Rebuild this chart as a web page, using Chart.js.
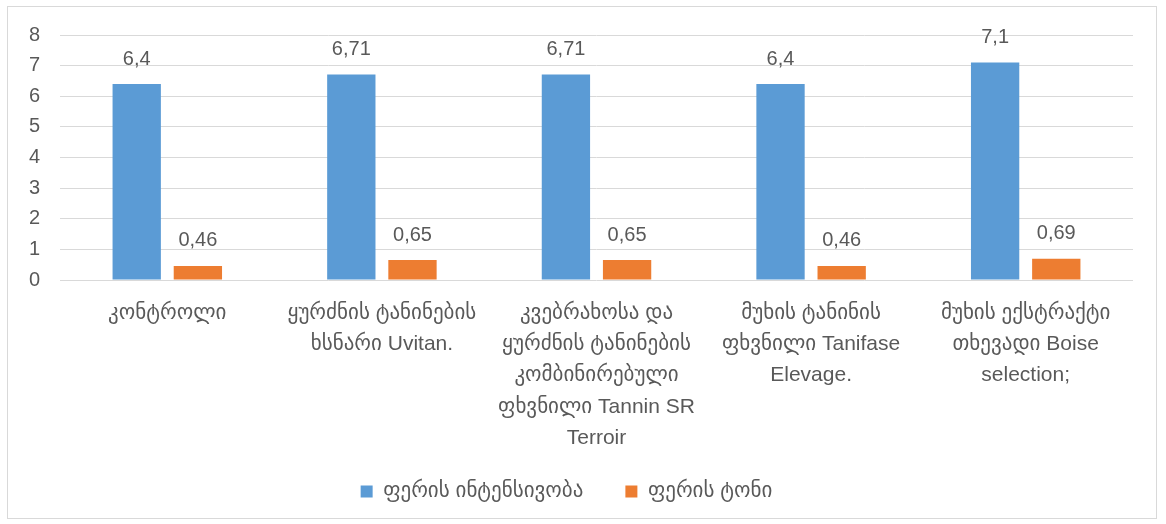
<!DOCTYPE html>
<html>
<head>
<meta charset="utf-8">
<script src="https://cdn.jsdelivr.net/npm/chart.js@4.4.0/dist/chart.umd.min.js"></script>
<style>
  html, body { margin: 0; padding: 0; background: #fff; }
  #wrap { position: relative; width: 1166px; height: 524px; }
  #frame { position: absolute; left: 7px; top: 6px; width: 1150px; height: 513px; border: 1px solid #d9d9d9; box-sizing: border-box; pointer-events: none; }
</style>
</head>
<body>
<div id="wrap">
  <canvas id="chart" width="1166" height="524"></canvas>
  <div id="frame"></div>
</div>
<script>
// categories (wrapped like the original axis labels)
const categories = [
    ["კონტროლი"],
    ["ყურძნის ტანინების", "ხსნარი Uvitan."],
    ["კვებრახოსა და", "ყურძნის ტანინების", "კომბინირებული", "ფხვნილი Tannin SR", "Terroir"],
    ["მუხის ტანინის", "ფხვნილი Tanifase", "Elevage."],
    ["მუხის ექსტრაქტი", "თხევადი Boise", "selection;"]
];
const intensity = [6.4, 6.71, 6.71, 6.4, 7.1];
const tone = [0.46, 0.65, 0.65, 0.46, 0.69];
const seriesNames = ["ფერის ინტენსივობა", "ფერის ტონი"];
const yTicks = [0, 1, 2, 3, 4, 5, 6, 7, 8];

const textColor = "#595959";
const fontFamily = "'Liberation Sans', 'DejaVu Sans', sans-serif";

// draws the value above each bar, with a decimal comma
const valueLabels = {
    id: "valueLabels",
    afterDatasetsDraw(chart) {
        const ctx = chart.ctx;
        ctx.save();
        ctx.font = "20px " + fontFamily;
        ctx.fillStyle = textColor;
        ctx.textAlign = "center";
        ctx.textBaseline = "bottom";
        chart.data.datasets.forEach((ds, i) => {
            chart.getDatasetMeta(i).data.forEach((bar, j) => {
                const txt = String(ds.data[j]).replace(".", ",");
                ctx.fillText(txt, bar.x, bar.y - 15);
            });
        });
        ctx.restore();
    }
};

new Chart(document.getElementById("chart"), {
    type: "bar",
    data: {
        labels: categories,
        datasets: [
            { label: seriesNames[0], data: intensity, backgroundColor: "#5b9bd5" },
            { label: seriesNames[1], data: tone, backgroundColor: "#ed7d31" }
        ]
    },
    options: {
        responsive: false,
        animation: false,
        layout: { padding: { left: 0, right: 33, top: 35, bottom: 12 } },
        categoryPercentage: 0.57,
        barPercentage: 0.79,
        scales: {
            x: {
                grid: { display: false, drawTicks: false },
                border: { display: false },
                ticks: {
                    color: textColor,
                    font: { family: fontFamily, size: 21, lineHeight: 1.48 },
                    padding: 18,
                    maxRotation: 0,
                    autoSkip: false
                },
                afterFit(scale) {
                    scale.height = 159;
                    // let the long last label run past the axis box instead of being cut off
                    scale._computeLabelArea = () => null;
                }
            },
            y: {
                min: 0,
                max: 8,
                afterBuildTicks(scale) { scale.ticks = yTicks.map(v => ({ value: v })); },
                grid: { color: "#d9d9d9", lineWidth: 1, drawTicks: false },
                border: { display: false },
                ticks: {
                    color: textColor,
                    font: { family: fontFamily, size: 20 },
                    padding: 20
                },
                afterFit(scale) { scale.width = 60; }
            }
        },
        plugins: {
            legend: {
                position: "bottom",
                labels: {
                    color: textColor,
                    font: { family: fontFamily, size: 21 },
                    boxWidth: 12,
                    boxHeight: 12,
                    padding: 42
                }
            },
            tooltip: { enabled: false }
        }
    },
    plugins: [valueLabels]
});
</script>
</body>
</html>
